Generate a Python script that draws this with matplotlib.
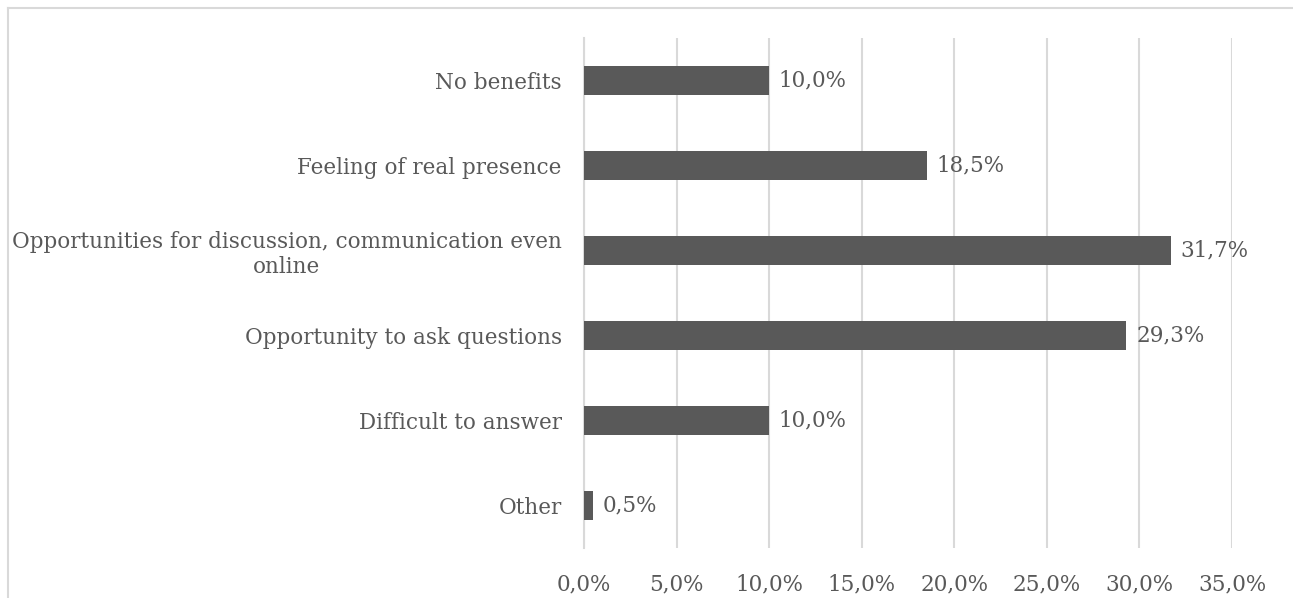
import matplotlib.pyplot as plt
from matplotlib.lines import Line2D
from matplotlib.ticker import FuncFormatter

categories = ['No benefits', 'Feeling of real presence',
              'Opportunities for discussion, communication even\nonline',
              'Opportunity to ask questions', 'Difficult to answer', 'Other']
values = [10.0, 18.5, 31.7, 29.3, 10.0, 0.5]
xticks = [0, 5, 10, 15, 20, 25, 30, 35]

plt.rcParams['font.family'] = ['DejaVu Serif']
textcol = '#595959'
barcol = '#595959'
gridcol = '#d9d9d9'
fs = 15.5

fig = plt.figure(figsize=(12.93, 5.98), dpi=100)
ax = fig.add_axes([584 / 1293, 1 - 548 / 598, (1232 - 584) / 1293, (548 - 38) / 598])

pos = list(range(len(categories)))[::-1]
ax.barh(pos, values, height=0.34, color=barcol, zorder=3)
for p, v in zip(pos, values):
    ax.annotate(('%.1f%%' % v).replace('.', ','), (v, p), xytext=(7, 0),
                textcoords='offset points', va='center', ha='left',
                fontsize=fs, color=textcol)

ax.set_xlim(0, 35)
ax.set_ylim(-0.5, len(categories) - 0.5)
ax.set_xticks(xticks)
ax.xaxis.set_major_formatter(FuncFormatter(lambda x, _: ('%.1f%%' % x).replace('.', ',')))
ax.set_yticks(pos)
ax.set_yticklabels(categories, multialignment='center')
ax.tick_params(axis='both', length=0, labelsize=fs, labelcolor=textcol)
ax.tick_params(axis='x', pad=18)
ax.tick_params(axis='y', pad=16)
ax.grid(axis='x', color=gridcol, linewidth=1.5, zorder=0)
for s in ['top', 'right', 'bottom']:
    ax.spines[s].set_visible(False)
ax.spines['left'].set_color(gridcol)
ax.spines['left'].set_linewidth(1.5)

# outer frame
fig.add_artist(Line2D([8 / 1293, 1], [1 - 8 / 598] * 2, color=gridcol, lw=1.5, transform=fig.transFigure))
fig.add_artist(Line2D([8 / 1293] * 2, [0, 1 - 8 / 598], color=gridcol, lw=1.5, transform=fig.transFigure))

fig.savefig('out.png', dpi=100)
